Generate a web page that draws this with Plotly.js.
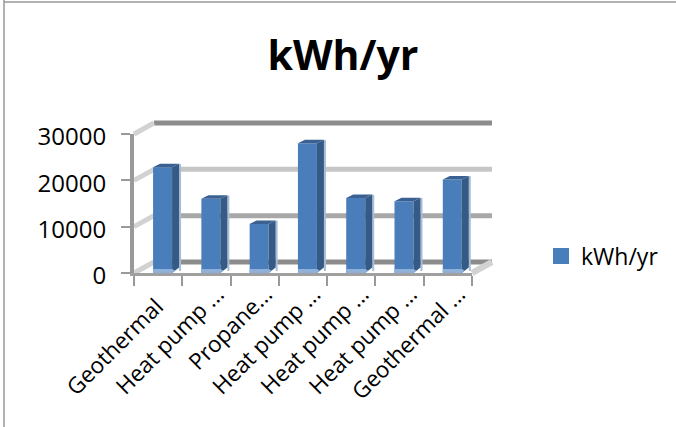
<!DOCTYPE html>
<html><head><meta charset="utf-8">
<script src="https://cdn.plot.ly/plotly-3.0.1.min.js"></script>
<style>html,body{margin:0;padding:0;background:#fff;overflow:hidden}</style>
</head><body><div id="chart" style="width:676px;height:427px"></div>
<script>
const categories = ["Geothermal","Heat pump A","Propane furnace","Heat pump B","Heat pump C","Heat pump D","Geothermal B"];
const tickLabels = ["Geothermal\u00a0\u00a0\u00a0","Heat pump ...","Propane...","Heat pump ...","Heat pump ...","Heat pump ...","Geothermal ..."];
const values = [22800,16000,10600,28000,16200,15500,20200];
const yTicks = [0,10000,20000,30000];
const yTickLabels = ["0","10000","20000","30000"];
const gridColors = ["#8c8c8c","#a8a8a8","#c6c6c6","#8c8c8c"];

const W=676,H=427,L=120,R=170,T=110,B=147;
const pw=W-L-R, ph=H-T-B;
const fx=p=>(p-L)/pw, fy=p=>(H-B-p)/ph;
const x0=134,x1=472,y0=273,y1=134;
const cat=(x1-x0)/7, unit=30000/(y0-y1);
const dx=20/cat, dy=11*unit;
const barW=19/cat, barOff=-0.105;
const sideX=7/cat, sideY=3.5*unit;
const font='"Open Sans", sans-serif';

const shapes=[];
const line=(xa,ya,xb,yb,color,width,layer)=>shapes.push({type:'line',xref:'x',yref:'y',x0:xa,y0:ya,x1:xb,y1:yb,layer:layer||'below',line:{color,width}});
yTicks.forEach((v,i)=>{
  line(-0.5+dx,v+dy,6.5+dx,v+dy,gridColors[i],5);
  line(-0.5,v,-0.5+dx,v+dy,'#d2d2d2',5);
});
line(6.5,0,6.5+dx,dy,'#d2d2d2',6);
const poly=(pts,fill)=>shapes.push({type:'path',xref:'x',yref:'y',layer:'above',
  path:'M'+pts.map(p=>p[0]+','+p[1]).join('L')+'Z',fillcolor:fill,line:{width:0}});
values.forEach((v,i)=>{
  const a=i+barOff, b=a+barW;
  poly([[b+sideX,sideY*0.6],[b+sideX+2/cat,sideY*0.6],[b+sideX+2/cat,v+sideY-100],[b+sideX,v+sideY]],'#a9bdd6');
  poly([[b,0],[b+sideX,sideY*1.6],[b+sideX,v+sideY],[b,v]],'#355a86');
  poly([[a,v],[a+sideX,v+sideY],[b+sideX,v+sideY],[b,v]],'#3a6192');
  poly([[a,0],[b,0],[b+sideX*0.4,sideY*0.7],[b,4*unit],[a,4*unit]],'#8fb0d9');
});

const trace={type:'bar',name:'kWh/yr',x:categories,y:values,width:barW,offset:barOff,showlegend:false,
  marker:{color:'#4a7ebb',line:{width:0}},xaxis:'x2',yaxis:'y2',hoverinfo:'skip'};
const legendEntry={type:'scatter',name:'kWh/yr',x:[null],y:[null],mode:'markers',
  marker:{symbol:'square',size:16,color:'#4a7ebb'},xaxis:'x2',yaxis:'y2',showlegend:true,hoverinfo:'skip'};
const carrier={type:'scatter',x:[0],y:[0],xaxis:'x',yaxis:'y',mode:'none',showlegend:false,hoverinfo:'skip'};

[[fx(4),fy(0),fx(4),fy(427)],[fx(4),fy(2),fx(676),fy(2)]].forEach(c=>shapes.push({type:'line',xref:'paper',yref:'paper',
  x0:c[0],y0:c[1],x1:c[2],y1:c[3],line:{color:'#999999',width:1.5}}));

const layout={width:W,height:H,margin:{l:L,r:R,t:T,b:B,pad:0},paper_bgcolor:'#fff',plot_bgcolor:'rgba(0,0,0,0)',
  font:{family:font,color:'#000'},
  title:{text:'<b>kWh/yr</b>',font:{family:font,size:41,color:'#000'},x:343/W,xanchor:'center',y:1-56/H,yanchor:'middle'},
  showlegend:true,
  legend:{x:fx(541),y:fy(256),xanchor:'left',yanchor:'middle',font:{family:font,size:23,color:'#000'},bgcolor:'rgba(0,0,0,0)'},
  xaxis:{domain:[0,1],range:[-0.5+(L-x0)/cat,6.5+(W-R-x1)/cat],visible:false,anchor:'y'},
  yaxis:{domain:[0,1],range:[(y0-(H-B))*unit,(y0-T)*unit],visible:false,anchor:'x'},
  xaxis2:{domain:[fx(x0),fx(x1)],type:'category',categoryorder:'array',categoryarray:categories,tickmode:'array',tickvals:categories,ticktext:tickLabels,
    range:[-0.5,6.5],tickson:'boundaries',ticks:'outside',ticklen:10,tickwidth:2,tickcolor:'#999',showline:true,linecolor:'#a0a0a0',linewidth:3,
    showgrid:false,zeroline:false,tickangle:-45,ticklabelshift:11,ticklabelstandoff:-4,tickfont:{family:font,size:22.5,color:'#000'},anchor:'y2',automargin:false},
  yaxis2:{domain:[fy(y0),fy(y1)],range:[0,30000],tickmode:'array',tickvals:yTicks,ticktext:yTickLabels,ticks:'outside',ticklen:9,tickwidth:2,tickcolor:'#999',
    showline:true,linecolor:'#999',linewidth:4,showgrid:false,zeroline:false,ticklabelstandoff:10,ticklabelshift:3,tickfont:{family:font,size:24,color:'#000'},anchor:'x2',automargin:false},
  shapes
};
Plotly.newPlot('chart',[carrier,trace,legendEntry],layout,{displayModeBar:false,staticPlot:true});
</script></body></html>
